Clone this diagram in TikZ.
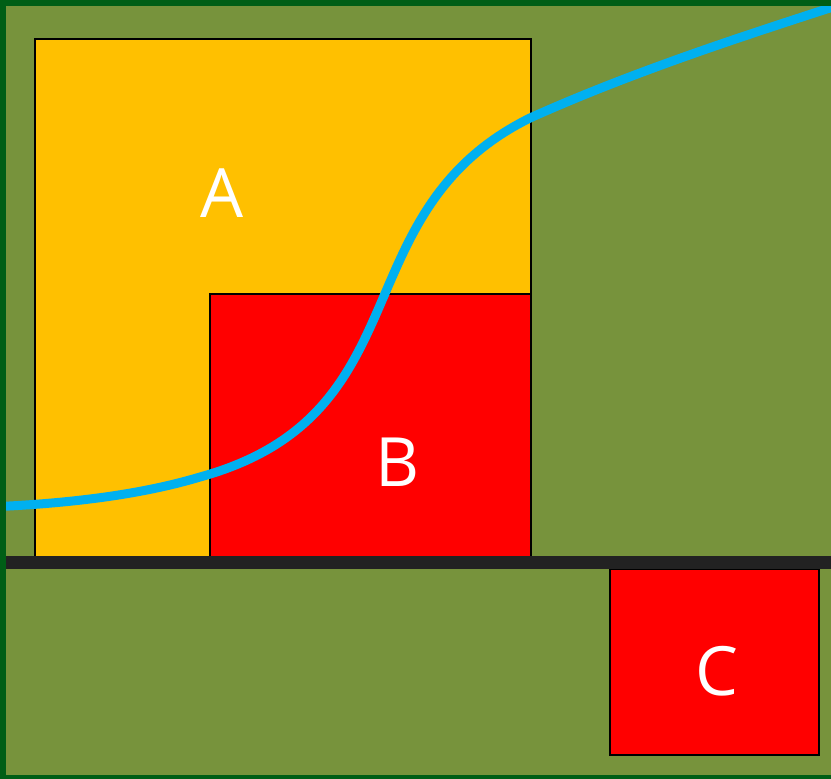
\documentclass[tikz,border=0pt]{standalone}
\usepackage{fontspec}
\setmainfont{Open Sans}
\usetikzlibrary{positioning}
\definecolor{FieldGreen}{RGB}{119,147,60}
\definecolor{EdgeGreen}{RGB}{0,94,22}
\definecolor{BoxYellow}{RGB}{255,192,0}
\definecolor{BoxRed}{RGB}{255,0,0}
\definecolor{CurveBlue}{RGB}{0,176,240}
\definecolor{BarGray}{RGB}{34,34,34}
\tikzset{
  blockbox/.style={
    draw=black,
    line width=2pt,
    inner sep=0pt,
    anchor=north west
  },
  yellowbox/.style={blockbox,fill=BoxYellow},
  redbox/.style={blockbox,fill=BoxRed},
  letter/.style={text=white,anchor=base,inner sep=0pt,font=\fontsize{68}{68}\selectfont},
  curveline/.style={draw=CurveBlue,line width=9pt}
}

\begin{document}
\begin{tikzpicture}[x=1pt,y=-1pt]
  \useasboundingbox (0,0) rectangle (831,779);
  \clip (0,0) rectangle (831,779);
  \fill[FieldGreen] (0,0) rectangle (831,779);

  \node[yellowbox, minimum width=496pt, minimum height=518pt] (boxA) at (34,38) {};
  \node[redbox, minimum width=321pt, minimum height=263pt] (boxB) at (209,293) {};
  \node[redbox, minimum width=209pt, minimum height=186pt] (boxC) at (609,568) {};

  \draw[BarGray, line width=12.5pt] (6,562.5) -- (831,562.5);

  \node[letter] (labA) at (222,217) {A};
  \node[letter] (labB) at (398,486) {B};
  \node[letter] (labC) at (717,695) {C};

  \draw[curveline] (0,506.5) .. controls (70,503) and (140,495) .. (200,477)
    .. controls (425,415) and (340,212) .. (530,118)
    .. controls (630,73) and (740,37) .. (836,6);

  % frame
  \fill[EdgeGreen] (0,0) rectangle (6,779);
  \fill[EdgeGreen] (0,0) rectangle (831,6);
  \fill[EdgeGreen] (0,775) rectangle (831,779);
\end{tikzpicture}
\end{document}
